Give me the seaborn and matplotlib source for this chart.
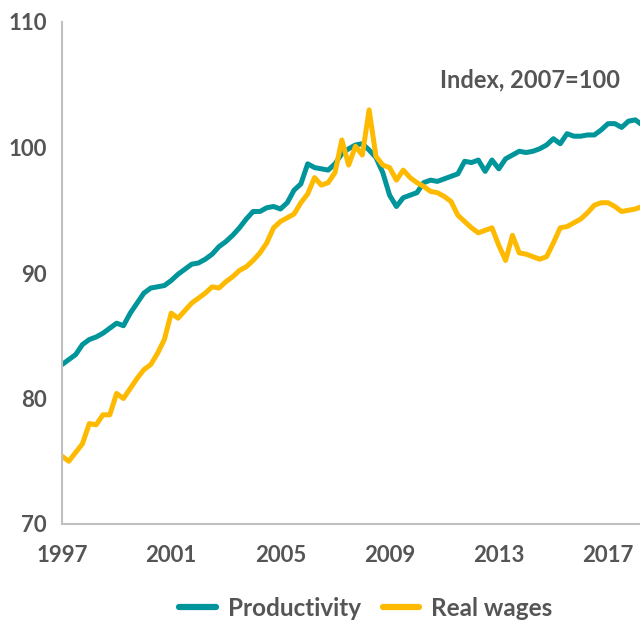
import numpy as np
import pandas as pd
import matplotlib
matplotlib.use("Agg")
import matplotlib.pyplot as plt
import seaborn as sns
from matplotlib.lines import Line2D

# quarterly index values, 1997Q1 onwards (2007=100)
productivity = [
    82.7, 83.1, 83.5, 84.3, 84.7, 84.9, 85.2, 85.6, 86.0, 85.8,
    86.8, 87.6, 88.4, 88.8, 88.9, 89.0, 89.4, 89.9, 90.3, 90.7,
    90.8, 91.1, 91.5, 92.1, 92.5, 93.0, 93.6, 94.3, 94.9, 94.9,
    95.2, 95.3, 95.1, 95.6, 96.6, 97.1, 98.7, 98.4, 98.3, 98.2,
    98.7, 99.5, 99.9, 100.2, 100.3, 99.8, 99.2, 98.0, 96.2, 95.3,
    96.0, 96.2, 96.4, 97.2, 97.4, 97.3, 97.5, 97.7, 97.9, 98.9,
    98.8, 99.0, 98.1, 99.0, 98.3, 99.1, 99.4, 99.7, 99.6, 99.7,
    99.9, 100.2, 100.7, 100.3, 101.1, 100.9, 100.9, 101.0, 101.0, 101.4,
    101.9, 101.9, 101.6, 102.1, 102.2, 101.8,
]
real_wages = [
    75.4, 75.0, 75.7, 76.4, 78.0, 77.9, 78.7, 78.7, 80.4, 80.0,
    80.8, 81.6, 82.3, 82.7, 83.6, 84.7, 86.8, 86.4, 87.0, 87.6,
    88.0, 88.4, 88.9, 88.8, 89.3, 89.7, 90.2, 90.5, 91.0, 91.6,
    92.4, 93.6, 94.1, 94.4, 94.7, 95.6, 96.3, 97.6, 97.0, 97.2,
    98.0, 100.6, 98.6, 100.1, 99.4, 103.0, 99.3, 98.6, 98.4, 97.4,
    98.2, 97.6, 97.2, 96.9, 96.5, 96.4, 96.1, 95.7, 94.6, 94.1,
    93.6, 93.2, 93.4, 93.6, 92.2, 91.0, 93.0, 91.6, 91.5, 91.3,
    91.1, 91.3, 92.4, 93.6, 93.7, 94.0, 94.3, 94.8, 95.4, 95.6,
    95.6, 95.3, 94.9, 95.0, 95.1, 95.3,
]
series_names = ["Productivity", "Real wages"]
colors = ["#00959A", "#FDBA00"]
year_ticks = [1997, 2001, 2005, 2009, 2013, 2017]
y_ticks = [70, 80, 90, 100, 110]

quarters = 1997 + np.arange(len(productivity)) / 4
df = pd.DataFrame({
    "year": np.concatenate([quarters, quarters]),
    "value": productivity + real_wages,
    "series": [series_names[0]] * len(productivity) + [series_names[1]] * len(real_wages),
})

sns.set_theme(style="white")
plt.rcParams['font.family'] = ['Lato', 'DejaVu Sans']
text_col = "#555555"

fig = plt.figure(figsize=(6.4, 6.24), dpi=100)
ax = fig.add_axes([62/640, 1 - 524/624, 1 - 62/640, (524 - 22)/624])

sns.lineplot(data=df, x="year", y="value", hue="series", palette=colors,
             linewidth=3.6, ax=ax, legend=False)

ax.set_xlim(1997, 1997 + (640 - 62) / 27.3)
ax.set_ylim(70, 110)
ax.set_xticks(year_ticks)
ax.set_yticks(y_ticks)
ax.set_xlabel("")
ax.set_ylabel("")
ax.tick_params(axis="both", length=0, labelsize=16, labelcolor=text_col)
ax.tick_params(axis="x", pad=15)
ax.tick_params(axis="y", pad=11)
for lab in ax.get_xticklabels() + ax.get_yticklabels():
    lab.set_fontweight("bold")

for s in ["top", "right"]:
    ax.spines[s].set_visible(False)
for s in ["left", "bottom"]:
    ax.spines[s].set_color("#C0C0C0")
    ax.spines[s].set_linewidth(1.5)

ax.text(620/640, 1 - 80/624, "Index, 2007=100", transform=fig.transFigure,
        ha="right", va="center", fontsize=17, fontweight="bold", color=text_col)

handles = [Line2D([0], [0], color=c, lw=4.5, solid_capstyle="round") for c in colors]
leg = fig.legend(handles, series_names, loc="center", bbox_to_anchor=(366/640, 1 - 608/624),
                 ncol=2, frameon=False, fontsize=17.5, handlelength=1.5, columnspacing=0.9,
                 handletextpad=0.5)
for t in leg.get_texts():
    t.set_color(text_col)
    t.set_fontweight("bold")

fig.savefig("out.png", dpi=100)
